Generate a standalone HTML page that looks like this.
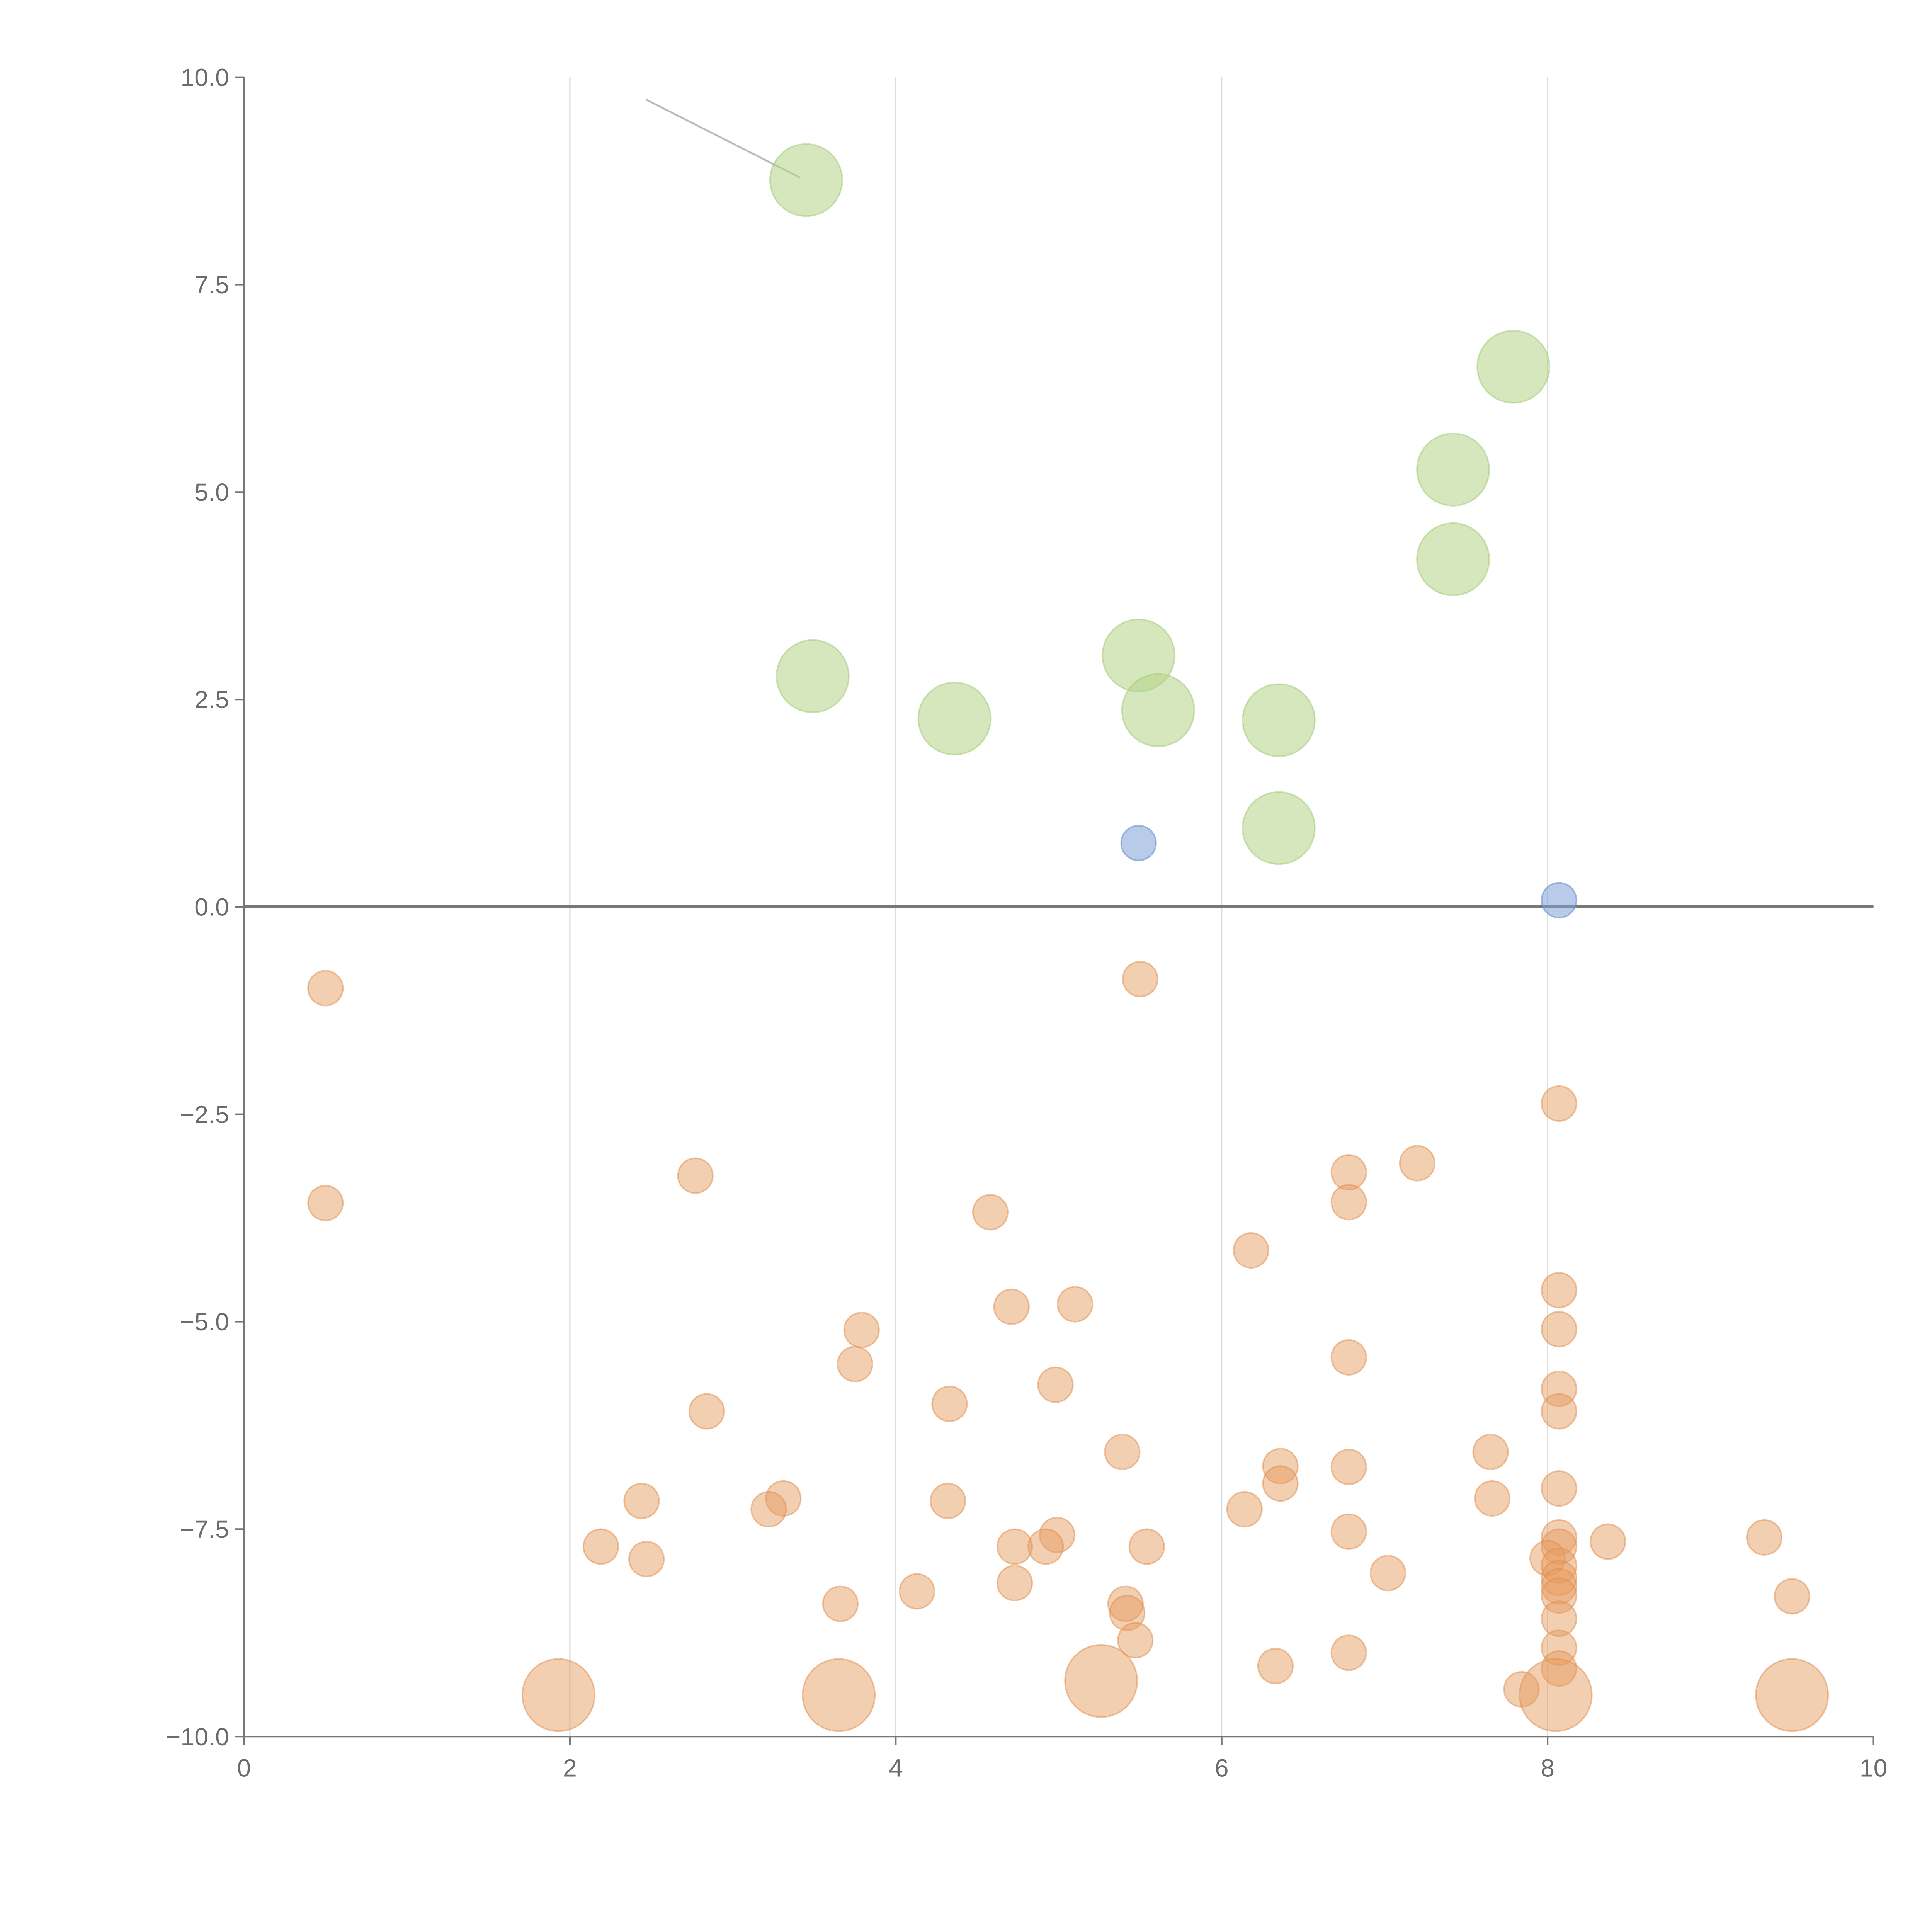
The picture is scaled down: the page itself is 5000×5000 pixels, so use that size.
<!DOCTYPE html>
<html><head><meta charset="utf-8"><style>html,body{margin:0;padding:0;background:#fff}svg{display:block}</style></head>
<body>
<svg id="chart" width="5000" height="5000" viewBox="0 0 1552 1552" xmlns="http://www.w3.org/2000/svg" font-family="Liberation Sans, sans-serif"></svg>
<script>
const greenX=[3.45,7.79,7.42,7.42,3.49,4.36,5.49,5.61,6.35,6.35];
const greenY=[8.76,6.51,5.27,4.19,2.78,2.27,3.03,2.37,2.25,0.95];
const blueX=[5.49,8.07];
const blueY=[0.77,0.08];
const orangeX=[0.50,0.50,5.50,8.07,2.77,6.78,7.20,6.78,4.58,6.18,8.07,4.71,5.10,3.79,8.07,3.75,6.78,4.98,8.07,2.84,4.33,8.07,5.39,7.65,6.36,6.36,6.78,8.07,2.44,3.31,3.22,4.32,7.66,6.14,6.78,4.99,2.19,2.47,4.73,4.92,5.54,8.07,8.07,8.37,9.33,8.00,8.07,8.07,8.07,7.02,4.73,4.13,8.07,3.66,5.41,5.42,9.50,8.07,5.47,6.78,8.07,6.33,8.07,7.84];
const orangeY=[-0.98,-3.57,-0.87,-2.37,-3.24,-3.20,-3.09,-3.56,-3.68,-4.14,-4.62,-4.82,-4.79,-5.10,-5.09,-5.51,-5.43,-5.76,-5.81,-6.08,-5.99,-6.08,-6.57,-6.57,-6.74,-6.95,-6.75,-7.01,-7.16,-7.13,-7.26,-7.16,-7.13,-7.26,-7.53,-7.57,-7.71,-7.86,-7.71,-7.71,-7.71,-7.60,-7.71,-7.65,-7.60,-7.85,-7.94,-8.09,-8.19,-8.03,-8.15,-8.25,-8.30,-8.40,-8.40,-8.51,-8.31,-8.58,-8.84,-8.99,-8.93,-9.15,-9.18,-9.43];
const bigOrangeX=[1.93,3.65,5.26,8.05,9.50];
const bigOrangeY=[-9.50,-9.50,-9.33,-9.50,-9.50];
const xTicks=[0,2,4,6,8,10];
const yTicks=[-10,-7.5,-5,-2.5,0,2.5,5,7.5,10];

const L=196,R=1505,T=62,B=1395;
const sx=v=>L+(v-0)/(10-0)*(R-L);
const sy=v=>B-(v+10)/20*(B-T);
const svg=document.getElementById('chart');
const NS='http://www.w3.org/2000/svg';
function mk(tag,attrs,parent){const e=document.createElementNS(NS,tag);for(const k in attrs)e.setAttribute(k,attrs[k]);(parent||svg).appendChild(e);return e;}

xTicks.slice(1,5).forEach(t=>{
  const g=mk('line',{x1:sx(t),x2:sx(t),y1:T,y2:B,stroke:'#dcdcdc','stroke-width':1});
  
  
});
const ax=mk('line',{x1:L,x2:L,y1:T,y2:B,stroke:'#777','stroke-width':1.3});


const bx=mk('line',{x1:L,x2:R,y1:B,y2:B,stroke:'#777','stroke-width':1.3});


xTicks.forEach(t=>{
  mk('line',{x1:sx(t),x2:sx(t),y1:B,y2:B+7,stroke:'#777','stroke-width':1.3});
  const tx=mk('text',{x:sx(t),y:B+32,'text-anchor':'middle','font-size':20,fill:'#6b6b6b'});
  tx.textContent=String(t);
  
  
});
yTicks.forEach(t=>{
  mk('line',{x1:L-7,x2:L,y1:sy(t),y2:sy(t),stroke:'#777','stroke-width':1.3});
  const tx=mk('text',{x:L-12,y:sy(t)+7,'text-anchor':'end','font-size':20,fill:'#6b6b6b'});
  tx.textContent=(t<0?'\u2212':'')+Math.abs(t).toFixed(1);
  
  
});
const z=mk('line',{x1:L,x2:R,y1:sy(0),y2:sy(0),stroke:'#777','stroke-width':2.5});


const an=mk('line',{x1:519,y1:80,x2:sx(greenX[0])-5,y2:sy(greenY[0])-2,stroke:'#bbb','stroke-width':1.5});



function dots(xs,ys,r,fill,stroke,name){
  xs.forEach((x,i)=>{
    const c=mk('circle',{cx:sx(x),cy:sy(ys[i]),r:r,fill:fill,stroke:stroke,'stroke-width':1.2});
    
    
  });
}
dots(orangeX,orangeY,14,'rgba(230,155,95,0.48)','rgba(222,140,75,0.5)','orange-point');
dots(bigOrangeX,bigOrangeY,29,'rgba(230,155,95,0.48)','rgba(222,140,75,0.5)','orange-large-point');
dots(greenX,greenY,29,'rgba(180,212,135,0.55)','rgba(160,200,115,0.5)','green-point');
dots(blueX,blueY,14,'rgba(125,160,215,0.55)','rgba(105,145,205,0.6)','blue-point');
</script>
</body></html>
